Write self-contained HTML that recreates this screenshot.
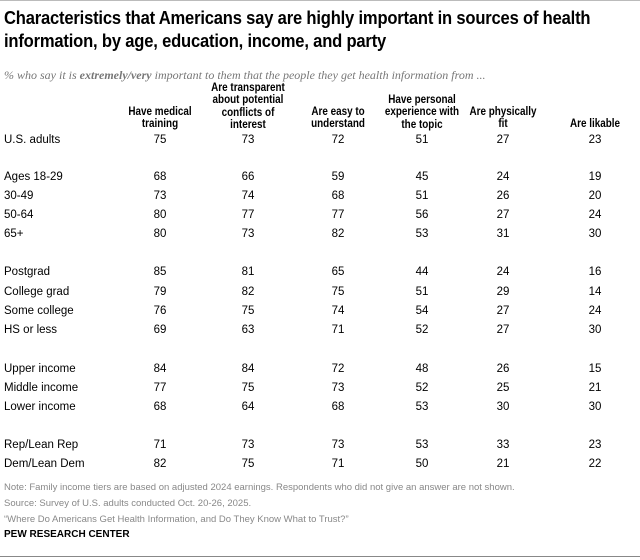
<!DOCTYPE html>
<html><head><style>
body{margin:0;width:640px;height:560px;background:#fff;font-family:"Liberation Sans",sans-serif;color:#000;position:relative;overflow:hidden}
.a{position:absolute;white-space:nowrap}
.t{left:4px;top:7px;font-size:18px;font-weight:bold;line-height:23px;letter-spacing:-0.2px;transform:scaleX(0.92);transform-origin:0 0}
.s{left:4px;top:68px;font-family:"Liberation Serif",serif;font-style:italic;font-size:12px;color:#777}
.h{font-size:11.5px;font-weight:bold;line-height:12.3px;text-align:center;width:120px;transform:scaleX(0.86)}
.l{left:4px;font-size:11.5px}
.n{font-size:11.5px;width:40px;text-align:center}
.f{left:4px;font-size:9.5px;color:#888}
</style></head><body>
<div class="a" style="left:0;top:0;width:640px;height:1px;background:#bbb"></div>
<div class="a" style="left:0;top:556px;width:640px;height:1px;background:#888"></div>
<div class="a t">Characteristics that Americans say are highly important in sources of health<br>information, by age, education, income, and party</div>
<div class="a s">% who say it is <b>extremely/very</b> important to them that the people they get health information from ...</div>
<div class="a h" style="left:100px;top:106px">Have medical<br>training</div>
<div class="a h" style="left:188px;top:82px">Are transparent<br>about potential<br>conflicts of<br>interest</div>
<div class="a h" style="left:278px;top:106px">Are easy to<br>understand</div>
<div class="a h" style="left:362px;top:94px">Have personal<br>experience with<br>the topic</div>
<div class="a h" style="left:443px;top:106px">Are physically<br>fit</div>
<div class="a h" style="left:535px;top:118px">Are likable</div>
<div id="rows"></div>
<script>
var d=[["U.S. adults",140,[75,73,72,51,27,23]],
["Ages 18-29",177,[68,66,59,45,24,19]],["30-49",196,[73,74,68,51,26,20]],["50-64",215,[80,77,77,56,27,24]],["65+",234,[80,73,82,53,31,30]],
["Postgrad",272,[85,81,65,44,24,16]],["College grad",292,[79,82,75,51,29,14]],["Some college",311,[76,75,74,54,27,24]],["HS or less",330,[69,63,71,52,27,30]],
["Upper income",369,[84,84,72,48,26,15]],["Middle income",388,[77,75,73,52,25,21]],["Lower income",407,[68,64,68,53,30,30]],
["Rep/Lean Rep",445,[71,73,73,53,33,23]],["Dem/Lean Dem",464,[82,75,71,50,21,22]]];
var c=[160,248,338,422,503,595],h="";
d.forEach(function(r){var t=r[1]-6;h+='<div class="a l" style="top:'+t+'px">'+r[0]+'</div>';
r[2].forEach(function(v,i){h+='<div class="a n" style="left:'+(c[i]-20)+'px;top:'+t+'px">'+v+'</div>';});});
document.getElementById("rows").innerHTML=h;
</script>
<div class="a f" style="top:482px">Note: Family income tiers are based on adjusted 2024 earnings. Respondents who did not give an answer are not shown.</div>
<div class="a f" style="top:498px">Source: Survey of U.S. adults conducted Oct. 20-26, 2025.</div>
<div class="a f" style="top:514px">“Where Do Americans Get Health Information, and Do They Know What to Trust?”</div>
<div class="a" style="left:4px;top:529px;font-size:10px;font-weight:bold">PEW RESEARCH CENTER</div>
</body></html>
